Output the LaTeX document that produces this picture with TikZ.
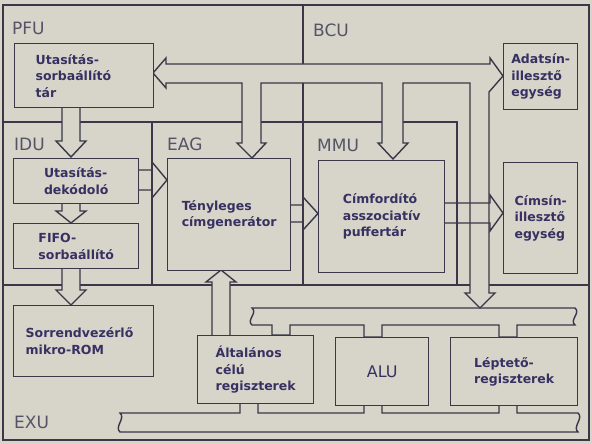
\documentclass[tikz,border=0pt]{standalone}
\usepackage{fontspec}
\setmainfont{DejaVu Sans}
\definecolor{bgpaper}{RGB}{215,212,202}
\definecolor{inkline}{RGB}{58,56,72}
\definecolor{inktext}{RGB}{55,49,98}
\definecolor{inklabel}{RGB}{84,84,102}
% vertical block arrow: x centre, start y, flare y, tip y
\newcommand{\vblk}[4]{\draw[blk] (#1-9,#2) -- (#1-9,#3) -- (#1-15,#3) -- (#1,#4) -- (#1+15,#3) -- (#1+9,#3) -- (#1+9,#2);}
% horizontal block arrow: y centre, half width, start x, flare x, tip x
\newcommand{\hblk}[5]{\draw[blkopen] (#3,#1-#2) -- (#4,#1-#2) -- (#4,#1-#2-8) -- (#5,#1) -- (#4,#1+#2+8) -- (#4,#1+#2) -- (#3,#1+#2);}

\begin{document}
\begin{tikzpicture}[x=1pt,y=-1pt,
    blk/.style={fill=bgpaper,draw=inkline,line width=1.4pt,line join=miter},
    blkopen/.style={draw=inkline,line width=1.4pt,line join=miter},
    box/.style={draw=inkline,fill=bgpaper,line width=1.4pt,anchor=north west,align=left,
      text=inktext,inner ysep=0pt,font=\bfseries\fontsize{12.5}{16.5}\selectfont},
    lbl/.style={anchor=west,text=inklabel,inner sep=0pt,font=\fontsize{17}{19}\selectfont}]
    \fill[bgpaper] (0,0) rectangle (592,444);
    \useasboundingbox (0,0) rectangle (592,444);
    % unit borders
    \draw[inkline,line width=1.8pt] (3,5) rectangle (589,440);
    \draw[inkline,line width=1.4pt] (303,5) -- (303,285);
    \draw[inkline,line width=1.4pt] (3,122) -- (457,122) -- (457,285);
    \draw[inkline,line width=1.4pt] (152,122) -- (152,285);
    \draw[inkline,line width=1.4pt] (3,285) -- (589,285);
    % EXU buses
    \draw[blk] (575,308) .. controls (581,313) and (569,320) .. (575,325)
      -- (517,325) -- (517,337) -- (499,337) -- (499,325) -- (382,325) -- (382,337)
      -- (364,337) -- (364,325) -- (290,325) -- (290,335) -- (272,335) -- (272,325)
      -- (252,325) .. controls (246,320) and (258,313) .. (252,308) -- cycle;
    \draw[blk] (578,413) .. controls (584,418) and (572,427) .. (578,432)
      -- (120,432) .. controls (114,427) and (126,418) .. (120,413)
      -- (240,413) -- (240,403) -- (258,403) -- (258,413) -- (364,413) -- (364,405)
      -- (382,405) -- (382,413) -- (499,413) -- (499,405) -- (517,405) -- (517,413) -- cycle;
    % BCU bus
    \draw[blk] (153,73) -- (166,58) -- (166,64) -- (490,64) -- (490,58) -- (503,76)
      -- (489,92) -- (489,293) -- (495,293) -- (480,308) -- (465,293) -- (470,293)
      -- (470,83) -- (403,83) -- (403,143) -- (408,143) -- (393,159) -- (378,143)
      -- (382,143) -- (382,83) -- (261,83) -- (261,143) -- (266,143) -- (252,158)
      -- (237,143) -- (242,143) -- (242,83) -- (166,83) -- (166,88) -- cycle;
    % vertical transfers
    \vblk{71}{107}{141}{157}
    \vblk{71}{203}{211}{223}
    \vblk{71}{268}{290}{305}
    \vblk{221}{335}{282}{270}
    % blocks
    \node[box,minimum width=139,minimum height=64,text width=97pt,inner xsep=21pt] (tar) at (14,43) {Utasítás-\\sorbaállító\\tár};
    \node[box,minimum width=125,minimum height=45] (dekod) at (13,158) {Utasítás-\\dekódoló};
    \node[box,minimum width=125,minimum height=45] (fifo) at (13,223) {FIFO-\\sorbaállító};
    \node[box,minimum width=140,minimum height=71,text width=116pt,inner xsep=12pt] (mrom) at (13,305) {Sorrendvezérlő\\mikro-ROM};
    \node[box,minimum width=123,minimum height=112] (tcg) at (167,158) {Tényleges\\címgenerátor};
    \node[box,minimum width=126,minimum height=112] (cfp) at (318,160) {Címfordító\\asszociatív\\puffertár};
    \node[box,minimum width=74,minimum height=66] (adat) at (503,43) {Adatsín-\\illesztő\\egység};
    \node[box,minimum width=74,minimum height=111] (cimsin) at (503,162) {Címsín-\\illesztő\\egység};
    \node[box,minimum width=116,minimum height=68] (regs) at (197,335) {Általános\\célú\\regiszterek};
    \node[box,minimum width=93,minimum height=68,font=\fontsize{16}{18}\selectfont] (alu) at (335,337) {ALU};
    \node[box,minimum width=127,minimum height=68] (lept) at (450,337) {Léptető-\\regiszterek};
    % horizontal transfers
    \hblk{180}{10}{138}{152}{167}
    \hblk{213.5}{8.5}{290}{303}{318}
    \hblk{213}{10}{444}{490}{503}
    % unit names
    \node[lbl] (lpfu) at (12,28) {PFU};
    \node[lbl] (lbcu) at (313,30) {BCU};
    \node[lbl] (lidu) at (14,144) {IDU};
    \node[lbl] (leag) at (167,144) {EAG};
    \node[lbl] (lmmu) at (317,145) {MMU};
    \node[lbl] (lexu) at (14,422) {EXU};
\end{tikzpicture}
\end{document}
